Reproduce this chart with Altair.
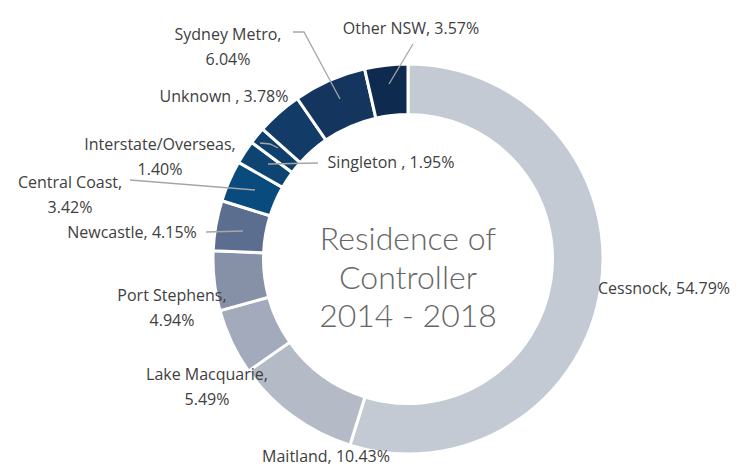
import altair as alt
import pandas as pd

# ---- data ----
categories = ["Cessnock", "Maitland", "Lake Macquarie", "Port Stephens", "Newcastle",
              "Central Coast", "Singleton", "Interstate/Overseas", "Unknown",
              "Sydney Metro", "Other NSW"]
shares = [54.79, 10.43, 5.49, 4.94, 4.15, 3.42, 1.95, 1.40, 3.78, 6.04, 3.57]
colors = ["#c4cad3", "#b4bac6", "#a3aabb", "#8690a6", "#5c6e8f", "#084b7c",
          "#0e4472", "#0f406d", "#123c67", "#13355e", "#0f2a4f"]
separators = [", ", ", ", ",\n", ",\n", ", ", ",\n", " , ", ",\n", " , ", ",\n", ", "]
center_lines = ["Residence of", "Controller", "2014 - 2018"]

# ---- layout (page pixel coords) ----
W, H = 729, 459
CX, CY = 408, 259
label_pos = [(664, 289), (326, 457), (207, 375), (172, 296), (132, 233), (70, 183),
             (391, 163), (160, 145), (224, 97), (228, 35), (411, 29)]
leaders = {
    "Newcastle": [(206, 232), (243, 231)],
    "Central Coast": [(130, 180), (255, 190)],
    "Interstate/Overseas": [(260, 143), (270, 144), (278, 148)],
    "Singleton": [(318, 163), (268, 164)],
    "Sydney Metro": [(293, 32), (304, 32), (340, 99)],
    "Other NSW": [(413, 44), (389, 84)],
}

arc_df = pd.DataFrame({"cat": categories, "share": shares, "idx": list(range(len(categories)))})
lab_df = pd.DataFrame({
    "label": [c + s + f"{v:.2f}%" for c, s, v in zip(categories, separators, shares)],
    "px": [p[0] - 8 for p in label_pos],
    "py": [p[1] - 8 for p in label_pos],
})
rows = []
for name, pts in leaders.items():
    for i, (x, y) in enumerate(pts):
        rows.append({"grp": name, "o": i, "px": x - 8, "py": y - 8})
lead_df = pd.DataFrame(rows)
ctr_df = pd.DataFrame({"t": center_lines, "py": [240 - 8, 279 - 8, 317 - 8]})

xs = alt.Scale(domain=[0, W], range=[0, W])
ys = alt.Scale(domain=[0, H], range=[0, H])

arcs = alt.Chart(arc_df).mark_arc(outerRadius=195, innerRadius=144.5,
                                   stroke="white", strokeWidth=3).encode(
    theta=alt.Theta("share:Q", stack=True),
    order=alt.Order("idx:Q"),
    color=alt.Color("cat:N", scale=alt.Scale(domain=categories, range=colors), legend=None),
    x=alt.value(CX - 8), y=alt.value(CY - 8),
)

lines = alt.Chart(lead_df).mark_line(color="#a6a6a6", strokeWidth=1.3).encode(
    x=alt.X("px:Q", scale=xs, axis=None),
    y=alt.Y("py:Q", scale=ys, axis=None),
    detail="grp:N",
    order="o:Q",
)

labels = alt.Chart(lab_df).mark_text(font="Open Sans", fontSize=16, color="#404040",
                                      align="center", baseline="middle",
                                      lineBreak="\n", lineHeight=25).encode(
    x=alt.X("px:Q", scale=xs, axis=None),
    y=alt.Y("py:Q", scale=ys, axis=None),
    text="label:N",
)

center = alt.Chart(ctr_df).mark_text(font="Lato", fontWeight=300, fontSize=32,
                                      color="#666666", align="center",
                                      baseline="middle").encode(
    x=alt.value(CX - 8),
    y=alt.Y("py:Q", scale=ys, axis=None),
    text="t:N",
)

chart = alt.layer(arcs, lines, labels, center).properties(
    width=W, height=H, autosize=alt.AutoSizeParams(type="none"), padding=0,
).configure_view(stroke=None)

chart.save("out.html", embed_options={"renderer": "svg", "actions": False})
